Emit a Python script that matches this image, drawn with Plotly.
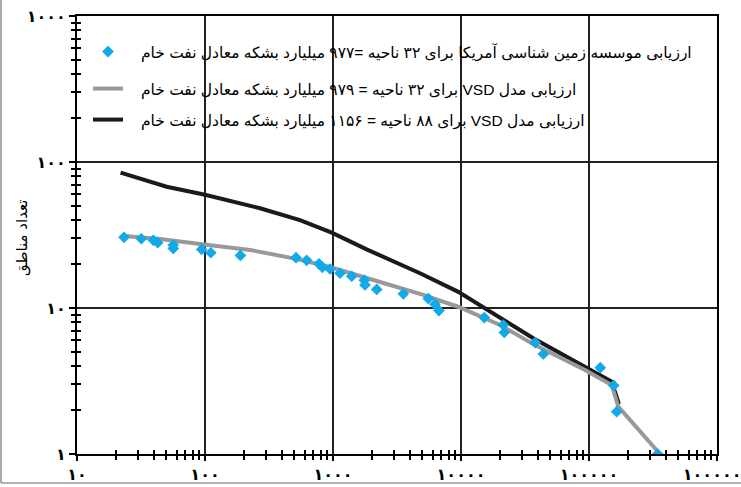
import plotly.graph_objects as go

# ---------------- data ----------------
usgs_x = [23.3, 31.8, 39.5, 42.7, 56.5, 56.5, 94.2, 111, 189, 514, 623, 777, 825, 948,
          1135, 1400, 1757, 1778, 2195, 3543, 5554, 6266, 6730, 15200, 21400, 21800,
          38000, 44000, 122500, 156000, 164500, 344000]
usgs_y = [30.5, 29.8, 29.1, 28.0, 27.0, 25.6, 25.2, 23.9, 22.9, 22.1, 21.2, 20.1, 19.0, 18.5,
          17.3, 16.5, 15.5, 14.4, 13.4, 12.5, 11.6, 10.6, 9.6, 8.6, 7.65, 6.8,
          5.8, 4.84, 3.9, 2.95, 1.95, 1.0]

vsd32_x = [23.7, 44.5, 91.4, 225, 514, 948, 1945, 4786, 9484, 20200, 36500, 93000,
           150300, 169400, 359000]
vsd32_y = [31.1, 29.7, 27.4, 25.0, 21.7, 19.1, 15.8, 12.5, 10.2, 7.65, 5.67, 3.76,
           2.97, 2.11, 1.0]

vsd88_x = [21.9, 50.2, 100, 269, 552, 977, 1832, 4786, 9530, 20200, 36700, 150300, 171400]
vsd88_y = [84.5, 67.7, 59.7, 48.2, 40.0, 32.8, 25.2, 17.3, 12.9, 8.6, 6.2, 3.13, 2.2]

x_tickvals = [10, 100, 1000, 10000, 100000, 1000000]
x_ticktext = ["۱۰", "۱۰۰", "۱۰۰۰", "۱۰۰۰۰", "۱۰۰۰۰۰", "۱۰۰۰۰۰۰"]
y_tickvals = [1, 10, 100, 1000]
y_ticktext = ["۱", "۱۰", "۱۰۰", "۱۰۰۰"]

name_usgs = "ارزیابی موسسه زمین شناسی آمریکا برای ۳۲ ناحیه =۹۷۷ میلیارد بشکه معادل نفت خام"
name_vsd32 = "ارزیابی مدل VSD برای ۳۲ ناحیه = ۹۷۹ میلیارد بشکه معادل نفت خام"
name_vsd88 = "ارزیابی مدل VSD برای ۸۸ ناحیه = ۱۱۵۶ میلیارد بشکه معادل نفت خام"
y_title = "تعداد مناطق"

RLE, PDF = "\u202b", "\u202c"
PAD = "\u00a0\u00a0\u00a0"
FONT = "Liberation Sans, DejaVu Sans, sans-serif"


def legend_label(s):
    return PAD + RLE + s + PDF


# ---------------- figure ----------------
W, H = 741, 487
ML, MR, MT, MB = 77, 24, 16, 33
PW, PH = W - ML - MR, H - MT - MB


def px_x(p):
    return (p - ML) / PW


def px_y(p):
    return (H - MB - p) / PH


fig = go.Figure()

fig.add_trace(go.Scatter(x=vsd88_x, y=vsd88_y, mode="lines",
                         line=dict(color="#1a1a1a", width=4),
                         name=legend_label(name_vsd88), legend="legend3"))
fig.add_trace(go.Scatter(x=vsd32_x, y=vsd32_y, mode="lines",
                         line=dict(color="#999999", width=4),
                         name=legend_label(name_vsd32), legend="legend2"))
fig.add_trace(go.Scatter(x=usgs_x, y=usgs_y, mode="markers",
                         marker=dict(symbol="diamond", size=9, color="#11a9e8"),
                         name=legend_label(name_usgs), legend="legend"))
# empty traces to activate overlay axes (crossing minor ticks)
fig.add_trace(go.Scatter(x=[], y=[], xaxis="x2", yaxis="y", showlegend=False))
fig.add_trace(go.Scatter(x=[], y=[], xaxis="x", yaxis="y2", showlegend=False))

minor_x = [m * 10 ** e for e in range(1, 6) for m in range(2, 10)]
minor_y = [m * 10 ** e for e in range(0, 3) for m in range(2, 10)]

common = dict(type="log", showline=True, linecolor="black", linewidth=2,
              automargin=False, ticklabeloverflow="allow",
              tickfont=dict(family="DejaVu Sans", size=16, color="black", weight="bold"))

fig.update_layout(
    width=W, height=H,
    margin=dict(l=ML, r=MR, t=MT, b=MB, pad=0, autoexpand=False),
    paper_bgcolor="white", plot_bgcolor="white",
    font=dict(family=FONT, color="black"),
    xaxis=dict(range=[1, 6], tickmode="array", tickvals=x_tickvals, ticktext=x_ticktext,
               ticks="outside", ticklen=5, tickwidth=2, tickcolor="black",
               showgrid=True, gridcolor="#222222", gridwidth=2, mirror=True,
               zeroline=False,
               minor=dict(tickmode="array", tickvals=minor_x, ticks="outside",
                          ticklen=4, tickwidth=1.5, tickcolor="black", showgrid=False),
               **common),
    xaxis2=dict(type="log", range=[1, 6], overlaying="x", anchor="y", side="bottom",
                showgrid=False, showticklabels=False, showline=False, automargin=False,
                tickmode="array", tickvals=[], ticks="",
                minor=dict(tickmode="array", tickvals=minor_x, ticks="inside",
                           ticklen=4, tickwidth=1.5, tickcolor="black", showgrid=False)),
    yaxis=dict(range=[0, 3], tickmode="array", tickvals=y_tickvals, ticktext=y_ticktext,
               ticks="outside", ticklen=6, tickwidth=2, tickcolor="black",
               showgrid=True, gridcolor="#222222", gridwidth=2, mirror=True,
               zeroline=False,
               minor=dict(tickmode="array", tickvals=minor_y, ticks="outside",
                          ticklen=4, tickwidth=1.5, tickcolor="black", showgrid=False),
               **common),
    yaxis2=dict(type="log", range=[0, 3], overlaying="y", anchor="x", side="left",
                showgrid=False, showticklabels=False, showline=False, automargin=False,
                tickmode="array", tickvals=[], ticks="",
                minor=dict(tickmode="array", tickvals=minor_y, ticks="inside",
                           ticklen=4, tickwidth=1.5, tickcolor="black", showgrid=False)),
    showlegend=True,
)

# y-axis title as rotated text
fig.add_annotation(text=y_title, xref="paper", yref="paper", x=px_x(22), y=px_y(238),
                   xanchor="center", yanchor="middle", textangle=-90, showarrow=False,
                   font=dict(family="DejaVu Sans", size=15, color="black"))

leg_common = dict(xanchor="left", yanchor="middle", bgcolor="rgba(0,0,0,0)",
                  borderwidth=0, itemwidth=30,
                  font=dict(family=FONT, size=15.5, color="black"))
fig.update_layout(
    legend=dict(x=px_x(88), y=px_y(52), **leg_common),
    legend2=dict(x=px_x(88), y=px_y(89), **leg_common),
    legend3=dict(x=px_x(88), y=px_y(120), **leg_common),
)

# outer frame lines
fig.add_shape(type="line", xref="paper", yref="paper",
              x0=px_x(1), x1=px_x(1), y0=px_y(0), y1=px_y(483),
              line=dict(color="#555555", width=1))
fig.add_shape(type="line", xref="paper", yref="paper",
              x0=px_x(1), x1=px_x(741), y0=px_y(483), y1=px_y(483),
              line=dict(color="#999999", width=1.5))

fig.write_html("out.html", config={"displayModeBar": False},
               post_script="document.body.style.margin='0';")
